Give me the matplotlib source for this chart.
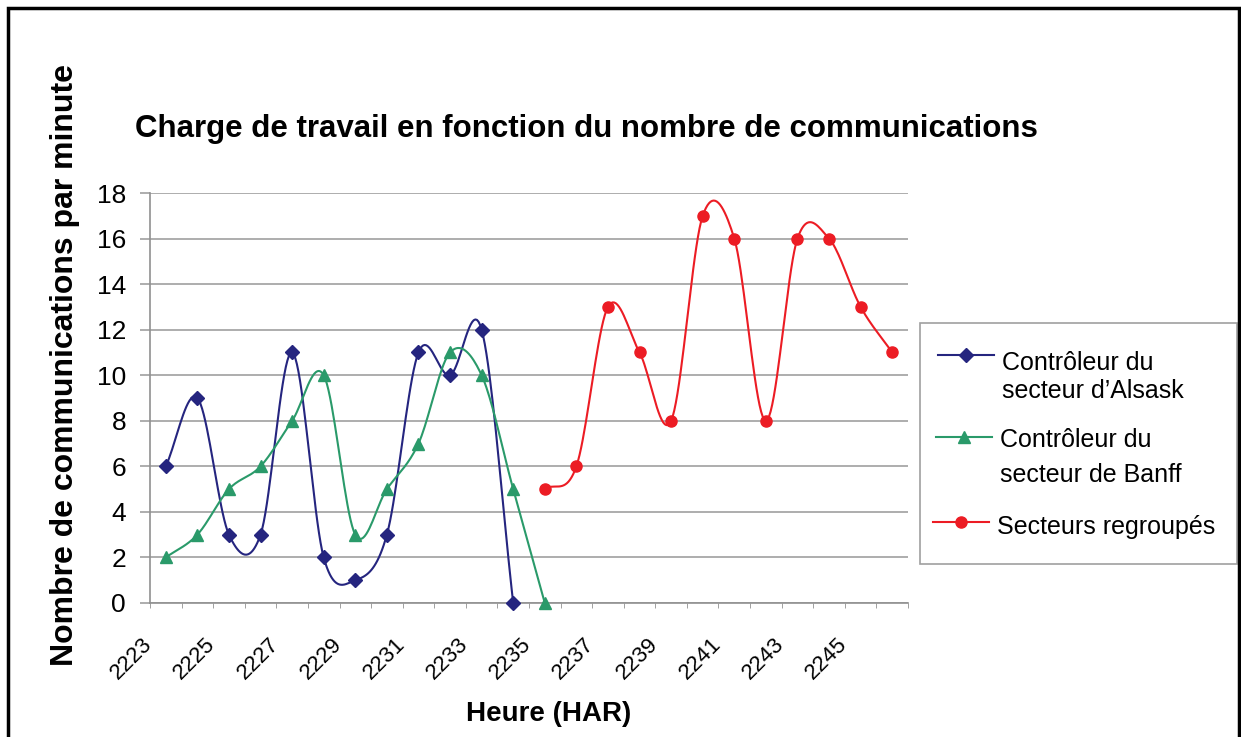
import numpy as np
import matplotlib
matplotlib.use('Agg')
from matplotlib import pyplot as plt
from matplotlib import transforms
from matplotlib.lines import Line2D
from matplotlib.patches import Rectangle

plt.rcParams['font.family'] = ['Liberation Sans', 'DejaVu Sans']

# heures (categories) and the three series
hours = [str(h) for h in range(2223, 2247)]
alsask = [6, 9, 3, 3, 11, 2, 1, 3, 11, 10, 12, 0]
banff = [2, 3, 5, 6, 8, 10, 3, 5, 7, 11, 10, 5, 0]
regroupes = [5, 6, 13, 11, 8, 17, 16, 8, 16, 16, 13, 11]
regroupes_start = 12  # first hour index of the grouped sectors

labels = [['Contrôleur du', 'secteur d’Alsask'],
          ['Contrôleur du', 'secteur de Banff'],
          ['Secteurs regroupés']]
colors = ['#25257f', '#2a9a6a', '#ec1c24']
markers = ['D', '^', 'o']
msizes = [7, 9, 8]

W, H = 1241, 737


def smooth(x, y, n=20):
    # Catmull-Rom curve through the points, like the spreadsheet smoothing
    x = np.asarray(x, float)
    y = np.asarray(y, float)
    px = np.concatenate(([2 * x[0] - x[1]], x, [2 * x[-1] - x[-2]]))
    py = np.concatenate(([2 * y[0] - y[1]], y, [2 * y[-1] - y[-2]]))
    xs, ys = [], []
    t = np.linspace(0, 1, n, endpoint=False)
    for i in range(1, len(px) - 2):
        for p, out in ((px, xs), (py, ys)):
            p0, p1, p2, p3 = p[i - 1], p[i], p[i + 1], p[i + 2]
            out.extend(0.5 * (2 * p1 + (-p0 + p2) * t
                              + (2 * p0 - 5 * p1 + 4 * p2 - p3) * t ** 2
                              + (-p0 + 3 * p1 - 3 * p2 + p3) * t ** 3))
    xs.append(x[-1])
    ys.append(y[-1])
    return np.array(xs), np.array(ys)


fig = plt.figure(figsize=(W / 100, H / 100), dpi=100)
ax = fig.add_axes([150 / W, 1 - 603 / H, 758 / W, 410 / H])

series = [(np.arange(len(alsask)), alsask),
          (np.arange(len(banff)), banff),
          (np.arange(len(regroupes)) + regroupes_start, regroupes)]
for (x, y), c, m, ms in zip(series, colors, markers, msizes):
    sx, sy = smooth(x, y)
    ax.plot(sx, sy, color=c, lw=1.5, zorder=3, clip_on=False)
    ax.plot(x, y, ls='none', marker=m, color=c, ms=ms, zorder=4, clip_on=False)

ax.set_xlim(-0.5, len(hours) - 0.5)
ax.set_ylim(0, 18)
ax.set_yticks(range(0, 19, 2))
ax.yaxis.grid(True, color='#a0a0a0', lw=1.2)
ax.set_axisbelow(True)
for s in ['top', 'right']:
    ax.spines[s].set_visible(False)
for s in ['left', 'bottom']:
    ax.spines[s].set_color('#909090')
    ax.spines[s].set_linewidth(1.2)

ax.set_xticks(np.arange(0, len(hours), 2))
ax.set_xticklabels(hours[::2], rotation=45, ha='right', va='top',
                   rotation_mode='anchor', fontsize=16)
ax.set_xticks(np.arange(-0.5, len(hours), 1), minor=True)
ax.tick_params(axis='x', which='major', length=0, pad=22)
ax.tick_params(axis='x', which='minor', length=3.6, color='#909090')
ax.tick_params(axis='y', length=7.2, width=1.2, color='#a0a0a0', labelsize=19, pad=10)
shift = transforms.ScaledTranslation(-24 / 100, 0, fig.dpi_scale_trans)
for lab in ax.get_xticklabels():
    lab.set_transform(lab.get_transform() + shift)

fig.text(135 / W, 1 - 129 / H, 'Charge de travail en fonction du nombre de communications',
         fontsize=22.5, fontweight='bold', ha='left', va='center')
fig.text(65 / W, 1 - 365 / H, 'Nombre de communications par minute',
         fontsize=23, fontweight='bold', rotation=90, ha='center', va='center')
fig.text(549 / W, 1 - 714 / H, 'Heure (HAR)',
         fontsize=20, fontweight='bold', ha='center', va='center')

# legend drawn by hand: the spreadsheet puts the key on the first text line
fig.patches.append(Rectangle((920 / W, 1 - 564 / H), 317 / W, 241 / H,
                             transform=fig.transFigure, fill=False,
                             edgecolor='#a0a0a0', lw=1.2))
key_y = [355, 437, 522]
key_x = [938, 936, 933]
text_x = [1002, 1000, 997]
baselines = [[370, 398], [447, 482], [534]]
for i in range(3):
    x0 = key_x[i]
    fig.add_artist(Line2D([x0 / W, (x0 + 56) / W], [1 - key_y[i] / H] * 2,
                          color=colors[i], lw=1.5, transform=fig.transFigure))
    fig.add_artist(Line2D([(x0 + 28) / W], [1 - key_y[i] / H], color=colors[i],
                          marker=markers[i], ms=msizes[i], transform=fig.transFigure))
    for line, b in zip(labels[i], baselines[i]):
        fig.text(text_x[i] / W, 1 - b / H, line, fontsize=18,
                 ha='left', va='baseline')

# outer frame of the picture
fig.patches.append(Rectangle((8 / W, -0.05), 1231 / W, 1.05 - 8 / H,
                             transform=fig.transFigure, fill=False,
                             edgecolor='black', lw=2.5))

fig.savefig('out.png', dpi=100)
